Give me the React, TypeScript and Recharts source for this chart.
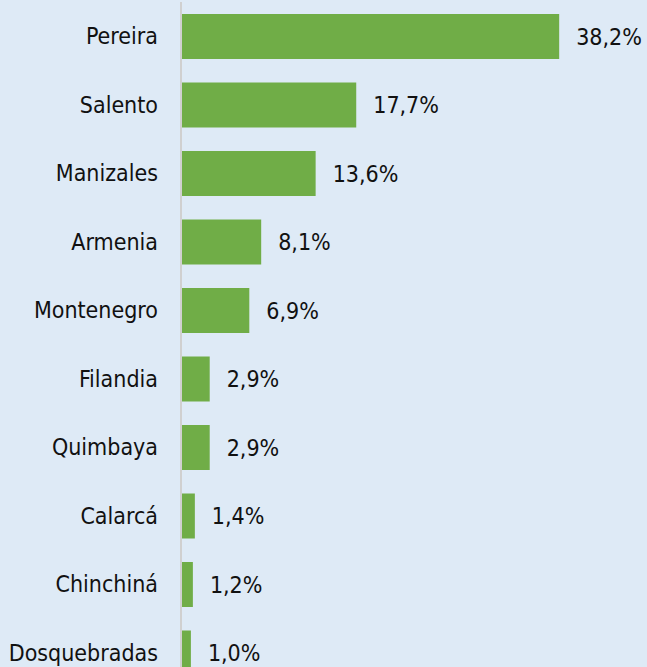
import { Bar, BarChart, LabelList, XAxis, YAxis } from "recharts"

const cities = [
  "Pereira",
  "Salento",
  "Manizales",
  "Armenia",
  "Montenegro",
  "Filandia",
  "Quimbaya",
  "Calarcá",
  "Chinchiná",
  "Dosquebradas",
]

const shares = [38.2, 17.7, 13.6, 8.1, 6.9, 2.9, 2.9, 1.4, 1.2, 1.0]

const data = cities.map((name, i) => ({ name, value: shares[i] }))

const formatPct = (v: number) => `${v.toFixed(1).replace(".", ",")}%`

const font = "'DejaVu Sans Condensed', 'DejaVu Sans', sans-serif"

export default function App() {
  return (
    <div
      style={{
        position: "absolute",
        left: 0,
        top: 0,
        width: 647,
        height: 667,
        overflow: "hidden",
        background: "#deeaf6",
        fontFamily: font,
      }}
    >
      <BarChart
        width={647}
        height={687}
        data={data}
        layout="vertical"
        margin={{ top: 2, right: 70, left: 0, bottom: 0 }}
      >
        <XAxis type="number" domain={[0, 40]} hide />
        <YAxis
          dataKey="name"
          type="category"
          width={181}
          tickLine={false}
          tickSize={0}
          tickMargin={23}
          axisLine={{ stroke: "#d0d0d0", strokeWidth: 2 }}
          tick={{ fill: "#111", fontSize: 23, fontFamily: font }}
        />
        <Bar dataKey="value" fill="#70ad47" barSize={45} isAnimationActive={false}>
          <LabelList
            dataKey="value"
            position="right"
            offset={17}
            formatter={(v: any) => formatPct(Number(v))}
            style={{ fill: "#111", fontSize: 23, fontFamily: font }}
          />
        </Bar>
      </BarChart>
    </div>
  )
}
